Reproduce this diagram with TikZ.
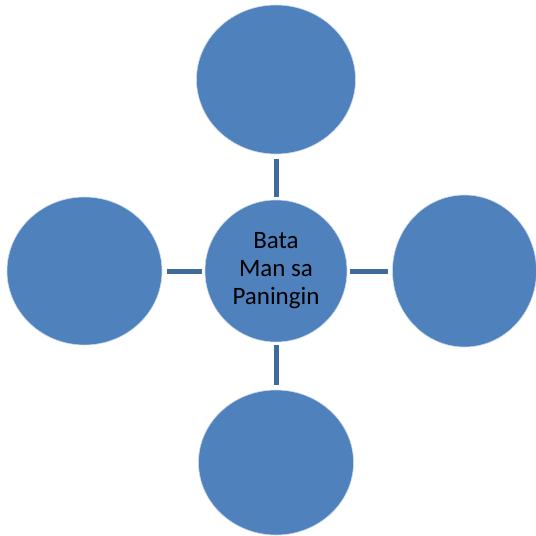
\documentclass[tikz,border=0pt]{standalone}
\usepackage{fontspec}
\setmainfont{Carlito}
\usetikzlibrary{shapes.geometric}
\definecolor{bubblefill}{HTML}{4F81BD}
\definecolor{linkcol}{HTML}{3F6A9C}
\newcommand\gapin{3pt}
\newcommand\gapout{5pt}

\begin{document}
\begin{tikzpicture}[x=1pt,y=-1pt,
		bubble/.style={ellipse,fill=bubblefill,draw=white!70!bubblefill,line width=.6pt,inner sep=0pt,outer sep=0pt},
		link/.style={linkcol,line width=5pt,shorten <=\gapin,shorten >=\gapout}]
		\useasboundingbox (0,0) rectangle (536,536);
		\node(hub)[bubble,minimum width=142pt,minimum height=142pt,align=center,font=\fontsize{25}{28}\selectfont] at (276, 271) {Bata\\Man sa\\Paningin};
		\node(up)[bubble,minimum width=159pt,minimum height=149pt] at (276, 79.5) {};
		\node(lt)[bubble,minimum width=155pt,minimum height=148pt] at (84.5, 271) {};
		\node(rt)[bubble,minimum width=144pt,minimum height=152pt] at (464.5, 271) {};
		\node(dn)[bubble,minimum width=155pt,minimum height=145pt] at (276, 462.5) {};
		\draw [link] (hub.north) -- (up.south);
		\draw [link] (hub.west) -- (lt.east);
		\draw [link] (hub.east) -- (rt.west);
		\draw [link] (hub.south) -- (dn.north);
	\end{tikzpicture}
\end{document}
